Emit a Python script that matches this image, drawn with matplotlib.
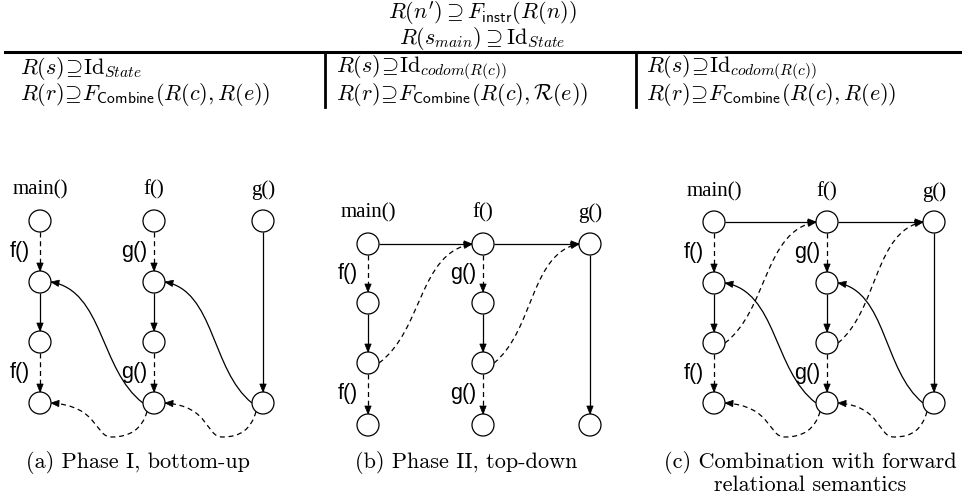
import matplotlib
matplotlib.use("Agg")
import matplotlib.pyplot as plt
import numpy as np
from matplotlib.patches import Circle, Polygon, PathPatch
from matplotlib.path import Path

plt.rcParams['mathtext.fontset'] = 'cm'

# ---- data: graph structure ----
columns = ["main()", "f()", "g()"]
node_rows = [[0, 1, 2, 3], [0, 1, 2, 3], [0, 3]]
# (column, from row, to row, call label)
intra_edges = [(0, 0, 1, "f()"), (0, 1, 2, None), (0, 2, 3, "f()"),
               (1, 0, 1, "g()"), (1, 1, 2, None), (1, 2, 3, "g()"),
               (2, 0, 3, None)]
return_edges = [((1, 3), (0, 1)), ((2, 3), (1, 1))]   # solid, exit -> return site
summary_edges = [((1, 3), (0, 3)), ((2, 3), (1, 3))]  # dashed loops underneath
entry_edges = [((0, 0), (1, 0)), ((1, 0), (2, 0))]    # solid horizontal
call_edges = [((0, 2), (1, 0)), ((1, 2), (2, 0))]     # dashed, call site -> entry

panel_edges = {"a": ["return", "summary"],
               "b": ["entry", "call"],
               "c": ["entry", "call", "return", "summary"]}
captions = {"a": ["(a) Phase I, bottom-up"],
            "b": ["(b) Phase II, top-down"],
            "c": ["(c) Combination with forward", "relational semantics"]}

top_rules = [r"$R(n') \supseteq F_{\mathsf{instr}}(R(n))$",
             r"$R(s_{main}) \supseteq \mathrm{Id}_{State}$"]
table_rows = [
    [r"$R(s)\!\supseteq\!\mathrm{Id}_{State}$",
     r"$R(r)\!\supseteq\!F_{\mathsf{Combine}}(R(c),R(e))$"],
    [r"$R(s)\!\supseteq\!\mathrm{Id}_{codom(R(c))}$",
     r"$R(r)\!\supseteq\!F_{\mathsf{Combine}}(R(c),\mathcal{R}(e))$"],
    [r"$R(s)\!\supseteq\!\mathrm{Id}_{codom(R(c))}$",
     r"$R(r)\!\supseteq\!F_{\mathsf{Combine}}(R(c),R(e))$"],
]

# ---- layout (pixels) ----
panel_x = {"a": [40, 154, 263], "b": [368, 483, 590], "c": [714, 827, 934]}
panel_y = {"a": [221, 282, 342, 403], "b": [244, 303, 363, 425], "c": [222, 283, 343, 403]}
header_y = {"a": 190, "b": 213, "c": 192}
caption_x = {"a": 138, "b": 466, "c": 810}
R = 11
LW = 0.9
DASH = (0, (4, 3))

fig = plt.figure(figsize=(9.65, 4.97), dpi=100)
ax = fig.add_axes([0, 0, 1, 1])
ax.set_xlim(0, 965)
ax.set_ylim(497, 0)
ax.axis("off")


def arrowhead(tip, frm, L=8, W=3.2):
    tip = np.array(tip, float)
    d = tip - np.array(frm, float)
    d /= np.linalg.norm(d)
    n = np.array([-d[1], d[0]])
    base = tip - d * L
    ax.add_patch(Polygon([tip, base + n * W, base - n * W], closed=True,
                         fc="black", ec="black", lw=0.5, zorder=3))


def draw(verts, codes, dashed):
    ax.add_patch(PathPatch(Path(verts, codes), fill=False, ec="black", lw=LW,
                           ls=DASH if dashed else "-", zorder=2))
    arrowhead(verts[-1], verts[-2])


def s_curve(p0, p1, dashed):
    (x0, y0), (x1, y1) = p0, p1
    dx, dy = x1 - x0, y1 - y0
    verts = [p0, (x0 + 0.47 * dx, y0 + 0.27 * dy), (x0 + 0.43 * dx, y0 + 0.93 * dy), p1]
    draw(verts, [Path.MOVETO] + [Path.CURVE4] * 3, dashed)


def loop(src, dst, ys):
    sx, sy = src
    tx, ty = dst
    bx, by = sx + 0.37 * (tx - sx), ys + 34
    verts = [src, (sx - 5, sy + 18), (bx + 18, by), (bx, by),
             (bx - 17, by), (bx - 12, ty + 3), dst]
    draw(verts, [Path.MOVETO] + [Path.CURVE4] * 6, True)


# ---- table ----
ax.text(482, 13, top_rules[0], ha="center", va="center", fontsize=16)
ax.text(482, 39, top_rules[1], ha="center", va="center", fontsize=16)
ax.plot([5, 960], [52, 52], color="black", lw=2.2)
for xv in [325, 636]:
    ax.plot([xv, xv], [52, 107], color="black", lw=2.0)
for tx, rows in zip([20, 336, 646], table_rows):
    ax.text(tx, 68, rows[0], ha="left", va="center", fontsize=16)
    ax.text(tx, 94, rows[1], ha="left", va="center", fontsize=16)

# ---- graphs ----
for key in ["a", "b", "c"]:
    xs, ys = panel_x[key], panel_y[key]
    for ci, name in enumerate(columns):
        ax.text(xs[ci], header_y[key], name, ha="center", va="center",
                fontsize=15, family="Liberation Serif")
        for r in node_rows[ci]:
            ax.add_patch(Circle((xs[ci], ys[r]), R, fc="white", ec="black", lw=LW, zorder=4))
    for ci, r0, r1, lab in intra_edges:
        x = xs[ci]
        draw([(x, ys[r0] + R), (x, ys[r1] - R)], [Path.MOVETO, Path.LINETO], lab is not None)
        if lab:
            ax.text(x - 20, (ys[r0] + ys[r1]) / 2, lab, ha="center", va="center",
                    fontsize=15.5, family="Liberation Sans")
    kinds = panel_edges[key]
    if "entry" in kinds:
        for (c0, r0), (c1, r1) in entry_edges:
            draw([(xs[c0] + R, ys[r0]), (xs[c1] - R, ys[r1])], [Path.MOVETO, Path.LINETO], False)
    if "call" in kinds:
        for (c0, r0), (c1, r1) in call_edges:
            s_curve((xs[c0] + R, ys[r0]), (xs[c1] - R, ys[r1]), True)
    if "return" in kinds:
        for (c0, r0), (c1, r1) in return_edges:
            s_curve((xs[c0] - R, ys[r0]), (xs[c1] + R, ys[r1]), False)
    if "summary" in kinds:
        for (c0, r0), (c1, r1) in summary_edges:
            loop((xs[c0] - 7, ys[r0] + 8.5), (xs[c1] + R, ys[r1]), ys[r0])
    for i, line in enumerate(captions[key]):
        ax.text(caption_x[key], 462 + 23 * i, line, ha="center", va="center",
                fontsize=16, family="cmr10")

fig.savefig("out.png", dpi=100)
